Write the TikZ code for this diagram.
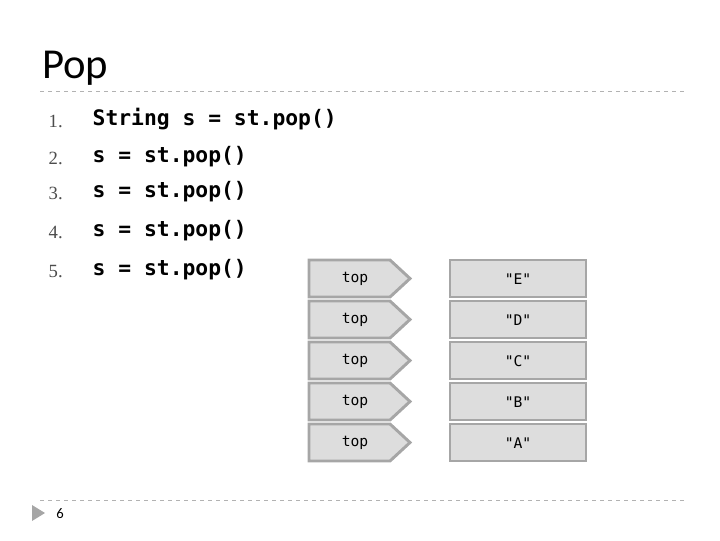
\documentclass[tikz,border=0pt]{standalone}
\usepackage{fontspec}
\setmainfont{Carlito}
\newfontfamily\codefont{DejaVu Sans Mono}
\newfontfamily\numfont{Liberation Serif}
\definecolor{boxfill}{HTML}{DDDDDD}
\definecolor{boxline}{HTML}{A6A6A6}
\tikzset{
  rule/.style={draw=gray!60, dashed, line width=0.6pt},
  num/.style={anchor=base west, font=\numfont\fontsize{14}{14}\selectfont, text=gray!60!black},
  code/.style={anchor=base west, font=\codefont\bfseries\fontsize{16}{16}\selectfont},
  cell/.style={font=\codefont\fontsize{11}{11}\selectfont},
  stackbox/.style={draw=boxline, fill=boxfill, line width=2.2pt}
}
\begin{document}
\begin{tikzpicture}[x=0.75pt,y=-0.75pt]
\useasboundingbox (0,0) rectangle (720,540);
% title and rules
\node (title) [anchor=base west, font=\fontsize{32}{32}\selectfont, inner sep=0] at (42,78) {Pop};
\draw[rule] (40,91) -- (685,91);
\draw[rule] (40,500) -- (685,500);
\fill[boxline] (32,505) -- (45,513) -- (32,521) -- cycle;
\node (page) [anchor=base west, font=\fontsize{11}{11}\selectfont, inner sep=0] at (56,518) {6};
% code lines
\node (n1) [num] at (44,127) {1.};
\node (c1) [code] at (88,125) {String s = st.pop()};
\foreach \i/\y in {2/162,3/197,4/236,5/275}{
  \node (n\i) [num] at (44,\y+2) {\i.};
  \node (c\i) [code] at (88,\y) {s = st.pop()};
}
% stack
\foreach \v [count=\k from 0] in {E,D,C,B,A}{
  \pgfmathsetmacro{\t}{260+41*\k}
  \draw[stackbox] (309,\t) -- (390,\t) -- (410,\t+18.5) -- (390,\t+37) -- (309,\t+37) -- cycle;
  \draw[stackbox] (450,\t) rectangle (586,\t+37);
  \node (top\v) [cell] at (355,\t+19) {top};
  \node (val\v) [cell] at (518,\t+19) {"\v"};
}
\end{tikzpicture}
\end{document}
